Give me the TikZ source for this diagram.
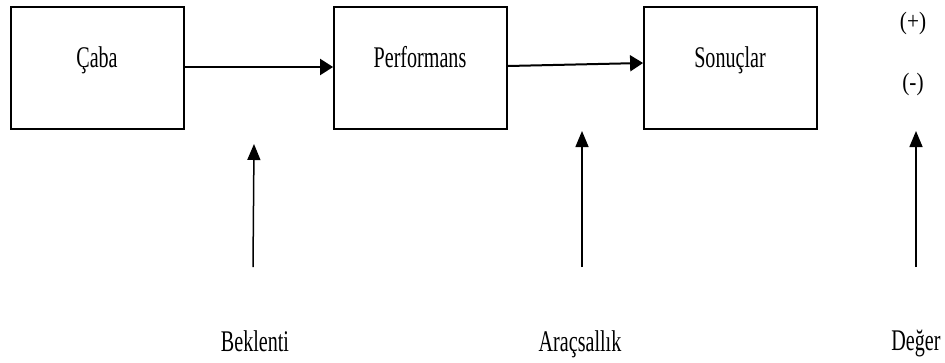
\documentclass[tikz,border=0pt]{standalone}
\usepackage{fontspec}
\setmainfont[FakeStretch=0.67]{Liberation Serif}
\newfontfamily\plainserif[FakeStretch=0.85]{Liberation Serif}
\usetikzlibrary{arrows.meta}
\tikzset{
  box/.style={draw=black, line width=1.8pt, minimum width=173pt, minimum height=122pt, inner sep=0pt},
  lbl/.style={anchor=base, inner sep=0pt, font=\fontsize{30}{35}\selectfont},
  sign/.style={anchor=base, inner sep=0pt, font=\plainserif\fontsize{25}{29}\selectfont},
  flow/.style={line width=2pt, -{Triangle[length=13pt,width=16pt]}},
  upar/.style={line width=1.5pt, -{Triangle[length=16pt,width=13pt]}}
}
\begin{document}
\begin{tikzpicture}[x=1pt,y=-1pt]
\useasboundingbox (0,0) rectangle (945,362);
\node[box] (caba) at (97.5,68) {};
\node[box] (perf) at (420.5,68) {};
\node[box] (son) at (730.5,68) {};
\node[lbl] (tcaba) at (97,67.5) {Çaba};
\node[lbl] (tperf) at (420,67.5) {Performans};
\node[lbl] (tson) at (730,67.5) {Sonuçlar};
\node[sign] (plus) at (913,29) {(+)};
\node[sign] (minus) at (913,90) {(-)};
\draw[flow] (caba.east |- 0,67) -- (perf.west |- 0,67);
\draw[flow] (perf.east |- 0,66) -- (son.west |- 0,63);
\coordinate (b1) at (253,267);
\coordinate (b2) at (254,144);
\coordinate (a1) at (582,267);
\coordinate (a2) at (582,131);
\coordinate (d1) at (916,267);
\coordinate (d2) at (916,131);
\draw[upar] (b1) -- (b2);
\draw[upar] (a1) -- (a2);
\draw[upar] (d1) -- (d2);
\node[lbl] (bek) at (255,351.5) {Beklenti};
\node[lbl] (arac) at (580,351.5) {Araçsallık};
\node[lbl] (deg) at (916,350) {Değer};
\end{tikzpicture}
\end{document}
